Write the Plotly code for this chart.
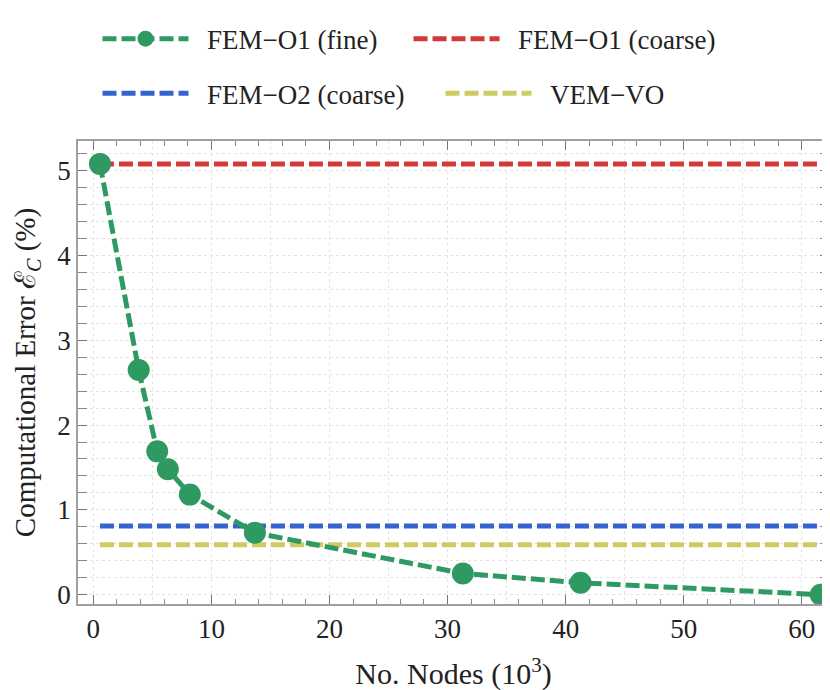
import plotly.graph_objects as go

# Data
nodes_k = [0.56, 3.84, 5.41, 6.31, 8.17, 13.68, 31.29, 41.26, 61.6]
err_fem_o1_fine = [5.08, 2.65, 1.69, 1.48, 1.18, 0.73, 0.25, 0.14, 0.0]
err_fem_o1_coarse = 5.08
err_fem_o2_coarse = 0.81
err_vem_vo = 0.59
series_names = ["FEM\u2212O1 (fine)", "FEM\u2212O1 (coarse)", "FEM\u2212O2 (coarse)", "VEM\u2212VO"]

FONT = "Liberation Serif"
GREEN = "#2E9A62"
RED = "#D23A3A"
BLUE = "#3564CF"
YELLOW = "#CFCB62"
DASH = "14px,5px"
LW = 5
PAD = "\u2002"  # spacing between legend symbol and label

xspan = [min(nodes_k), max(nodes_k)]

fig = go.Figure()
fig.add_trace(go.Scatter(
    x=nodes_k, y=err_fem_o1_fine, mode="lines+markers", name=PAD + series_names[0],
    line=dict(color=GREEN, width=LW, dash=DASH), zorder=10,
    marker=dict(size=22, color=GREEN), legend="legend"))
fig.add_trace(go.Scatter(
    x=xspan, y=[err_fem_o1_coarse] * 2, mode="lines", name=PAD + series_names[1],
    line=dict(color=RED, width=LW, dash=DASH), legend="legend"))
fig.add_trace(go.Scatter(
    x=xspan, y=[err_fem_o2_coarse] * 2, mode="lines", name=PAD + series_names[2],
    line=dict(color=BLUE, width=LW, dash=DASH), legend="legend2"))
fig.add_trace(go.Scatter(
    x=xspan, y=[err_vem_vo] * 2, mode="lines", name=PAD + series_names[3],
    line=dict(color=YELLOW, width=LW, dash=DASH), legend="legend2"))

xr = [-1.3, 62.3]
yr = [-0.11, 5.35]
GRID = "#e4e4e4"
axis_common = dict(
    showline=True, linecolor="#a0a0a0", linewidth=1.5, mirror="allticks",
    ticks="inside", ticklen=9, tickwidth=1.2, tickcolor="#777777",
    zeroline=False, tickfont=dict(family=FONT, size=27, color="#222222"),
)
fig.update_layout(
    width=830, height=690,
    paper_bgcolor="white", plot_bgcolor="white",
    margin=dict(l=67, r=7, t=125, b=94),
    font=dict(family=FONT, size=26, color="#222222"),
    xaxis=dict(range=xr, dtick=10, tick0=0, showgrid=False,
               minor=dict(dtick=2, tick0=0, ticks="inside", ticklen=5, tickcolor="#888888", showgrid=False),
               title=dict(text="No. Nodes (10<sup>3</sup>)", font=dict(family=FONT, size=30), standoff=20),
               **axis_common),
    xaxis2=dict(range=xr, dtick=5, tick0=0, overlaying="x", showgrid=True, gridcolor=GRID,
                griddash="dot", gridwidth=1, showticklabels=False, ticks="", showline=False, zeroline=False),
    yaxis=dict(range=yr, dtick=1, tick0=0, showgrid=True, gridcolor=GRID, griddash="dot",
               minor=dict(dtick=0.2, tick0=0, ticks="inside", ticklen=5, tickcolor="#888888",
                          showgrid=True, gridcolor=GRID, griddash="dot"),
               title=dict(text="Computational Error <span style=\"font-family:'DejaVu Serif'\">\u2130</span><sub><i>C</i></sub> (%)",
                          font=dict(family=FONT, size=29), standoff=22),
               **axis_common),
    legend=dict(orientation="h", x=0.026, xanchor="left", y=1.22, yanchor="middle",
                font=dict(family=FONT, size=27), itemwidth=86, entrywidth=210,
                bgcolor="rgba(0,0,0,0)"),
    legend2=dict(orientation="h", x=0.026, xanchor="left", y=1.102, yanchor="middle",
                 font=dict(family=FONT, size=27), itemwidth=86, entrywidth=242,
                 bgcolor="rgba(0,0,0,0)"),
)
# invisible trace to activate the xaxis2 grid
fig.add_trace(go.Scatter(x=[xr[0]], y=[yr[0]], xaxis="x2", mode="markers", marker=dict(opacity=0),
                         showlegend=False, hoverinfo="skip"))
fig.write_html("out.html")
